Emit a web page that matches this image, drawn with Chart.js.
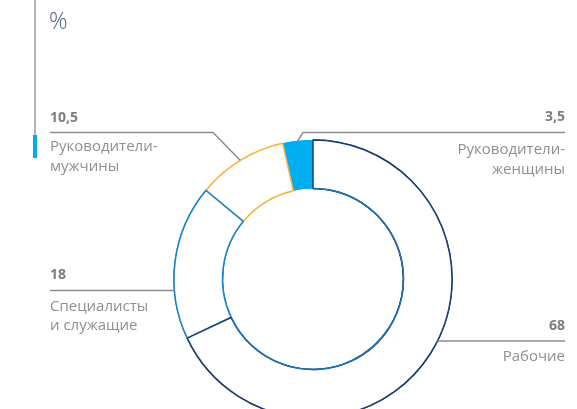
<!DOCTYPE html>
<html lang="ru">
<head>
<meta charset="utf-8">
<script src="https://cdn.jsdelivr.net/npm/chart.js@4.4.0/dist/chart.umd.min.js"></script>
<style>
    html, body { margin: 0; padding: 0; background: #fff; overflow: hidden; }
    #wrap { position: relative; width: 577px; height: 440px; }
</style>
</head>
<body>
<div id="wrap"><canvas id="staffChart" width="577" height="440"></canvas></div>
<script>
// Структура персонала, %
var categories = ['Рабочие', 'Специалисты и служащие', 'Руководители-мужчины', 'Руководители-женщины'];
var shares = [68, 18, 10.5, 3.5];
var valueLabels = ['68', '18', '10,5', '3,5'];
var captionLines = [
    ['Рабочие'],
    ['Специалисты', 'и служащие'],
    ['Руководители-', 'мужчины'],
    ['Руководители-', 'женщины']
];
var unitLabel = '%';

var borderColors = ['#1b3c72', '#1d84c2', '#f9b447', '#00aeef'];
var fillColors = ['#ffffff', '#ffffff', '#ffffff', '#00aeef'];
var innerRimColor = '#1f72b4';

// where each caption sits: side, y of the rule, elbow x for the slanted ones
var calloutLayout = [
    { side: 'right', x: 565, lineY: 341, valueY: 330, textY: [361] },
    { side: 'left', x: 50, lineY: 290.5, valueY: 279, textY: [311, 330] },
    { side: 'left', x: 50, lineY: 132.5, valueY: 122, textY: [151, 171], elbow: 213 },
    { side: 'right', x: 565, lineY: 132.5, valueY: 121, textY: [154, 174], elbow: 303 }
];

var ringOrder = {
    id: 'ringOrder',
    afterDatasetsDraw: function (chart) {
        var ctx = chart.ctx;
        var arcs = chart.getDatasetMeta(0).data;
        // сектора в обратном порядке: граница предыдущего сектора сверху
        [3, 2, 1, 0].forEach(function (i) { arcs[i].draw(ctx); });

        // внутренняя кромка «Рабочих» синим
        var p = arcs[0].getProps(['x', 'y', 'startAngle', 'endAngle', 'innerRadius']);
        ctx.save();
        ctx.strokeStyle = innerRimColor;
        ctx.lineWidth = 1.5;
        ctx.beginPath();
        ctx.arc(p.x, p.y, p.innerRadius, p.startAngle + 0.01, p.endAngle - 0.01);
        ctx.stroke();
        ctx.restore();
    }
};

var callouts = {
    id: 'callouts',
    afterDraw: function (chart) {
        var ctx = chart.ctx;
        var arcs = chart.getDatasetMeta(0).data;
        ctx.save();

        // боковая линия с акцентом
        ctx.strokeStyle = '#9a9a9a';
        ctx.lineWidth = 1.5;
        ctx.beginPath();
        ctx.moveTo(35, 0);
        ctx.lineTo(35, 135);
        ctx.stroke();
        ctx.fillStyle = '#00aeef';
        ctx.fillRect(33, 135, 4, 23);

        ctx.fillStyle = '#4d5d8e';
        ctx.font = '300 23px "Open Sans"';
        ctx.textAlign = 'left';
        ctx.textBaseline = 'alphabetic';
        ctx.fillText(unitLabel, 49, 29);

        arcs.forEach(function (arc, i) {
            var lay = calloutLayout[i];
            var p = arc.getProps(['x', 'y', 'startAngle', 'endAngle', 'outerRadius']);
            var ex, ey;
            if (lay.elbow) {
                var mid = (p.startAngle + p.endAngle) / 2;
                ex = p.x + Math.cos(mid) * p.outerRadius;
                ey = p.y + Math.sin(mid) * p.outerRadius;
            } else {
                var dy = lay.lineY - p.y;
                var dx = Math.sqrt(p.outerRadius * p.outerRadius - dy * dy);
                ex = lay.side === 'left' ? p.x - dx : p.x + dx;
                ey = lay.lineY;
            }

            ctx.strokeStyle = '#8e8e8e';
            ctx.lineWidth = 1.5;
            ctx.beginPath();
            ctx.moveTo(lay.x, lay.lineY);
            if (lay.elbow) {
                ctx.lineTo(lay.elbow, lay.lineY);
            }
            ctx.lineTo(ex, ey);
            ctx.stroke();

            ctx.textAlign = lay.side === 'left' ? 'left' : 'right';
            ctx.fillStyle = '#7d7d7d';
            ctx.font = 'bold 14px "Open Sans"';
            ctx.fillText(valueLabels[i], lay.x, lay.valueY);

            ctx.fillStyle = '#8f8f8f';
            ctx.font = '15px "Open Sans"';
            captionLines[i].forEach(function (line, k) {
                ctx.fillText(line, lay.x, lay.textY[k]);
            });
        });
        ctx.restore();
    }
};

var ctx = document.getElementById('staffChart').getContext('2d');
var chart = new Chart(ctx, {
    type: 'doughnut',
    data: {
        labels: categories,
        datasets: [{
            data: shares,
            backgroundColor: fillColors,
            borderColor: borderColors,
            borderWidth: [1.5, 1.5, 1.5, 0],
            borderAlign: 'center',
            hoverOffset: 0
        }]
    },
    options: {
        responsive: false,
        animation: false,
        radius: 139,
        cutout: 90,
        layout: {
            padding: { left: 174, right: 125, top: 140, bottom: 22 }
        },
        plugins: {
            legend: { display: false },
            tooltip: { enabled: false }
        }
    },
    plugins: [ringOrder, callouts]
});
</script>
</body>
</html>
